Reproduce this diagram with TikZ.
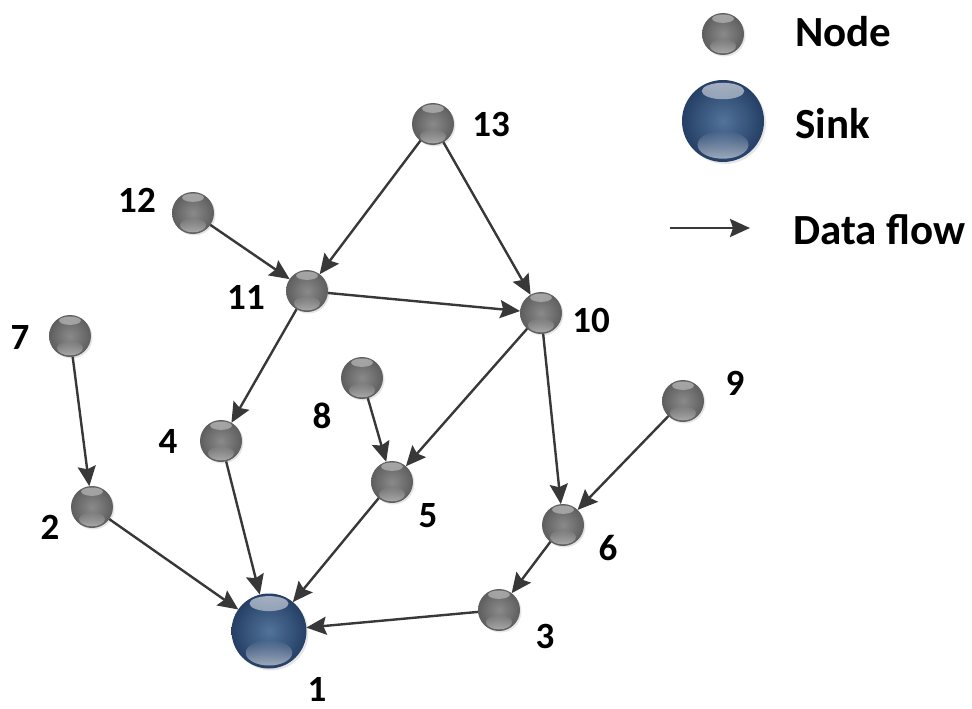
\documentclass[tikz,border=0pt]{standalone}
\usepackage{fontspec}
\setmainfont{Carlito}
\usetikzlibrary{arrows.meta,fadings,shadows}
\definecolor{edgegray}{HTML}{383838}
\definecolor{nodecenter}{HTML}{8A8A8A}
\definecolor{nodeedge}{HTML}{5E5E5E}
\definecolor{sinkcenter}{HTML}{52739A}
\definecolor{sinkedge}{HTML}{253F66}
\newcommand\ballshine[3]{%
  \fill[white,opacity=#2,path fading=south]
    ([yshift={-0.27*#1}]path picture bounding box.north)
    ellipse [x radius={0.52*#1}, y radius={0.2*#1}];
  \fill[white,opacity=#3,path fading=north]
    ([yshift={0.42*#1}]path picture bounding box.south)
    ellipse [x radius={0.62*#1}, y radius={0.34*#1}];
}
\tikzset{
  sensor/.style={circle, minimum size=42pt, inner sep=0pt, outer sep=0pt,
    inner color=nodecenter, outer color=nodeedge,
    drop shadow={shadow xshift=1.5pt, shadow yshift=-1.5pt, opacity=0.2},
    path picture={\ballshine{21pt}{0.45}{0.45}}},
  sinkball/.style={circle, minimum size=#1, inner sep=0pt, outer sep=0pt,
    inner color=sinkcenter, outer color=sinkedge,
    drop shadow={shadow xshift=2pt, shadow yshift=-2pt, opacity=0.2},
    path picture={\ballshine{0.5*#1}{0.6}{0.55}}},
  num/.style={font=\fontsize{37}{40}\selectfont\bfseries, text=black, inner sep=0pt},
  legtext/.style={font=\fontsize{43}{48}\selectfont\bfseries, text=black, inner sep=0pt, anchor=west},
  flow/.style={draw=edgegray, line width=2.4pt,
    -{Stealth[length=20pt, width=18pt, inset=3pt]}},
}
\begin{document}
\begin{tikzpicture}[x=1pt, y=-1pt]
\useasboundingbox (0,0) rectangle (972,709);
% nodes
\node[sensor] (n13) at (433,124) {};
\node[sensor] (n12) at (193,213) {};
\node[sensor] (n11) at (307,291) {};
\node[sensor] (n10) at (541,313) {};
\node[sensor] (n7)  at (70,336) {};
\node[sensor] (n8)  at (362,378) {};
\node[sensor] (n9)  at (683,401) {};
\node[sensor] (n4)  at (221,441) {};
\node[sensor] (n5)  at (392,482) {};
\node[sensor] (n2)  at (92,507) {};
\node[sensor] (n6)  at (563,525) {};
\node[sensor] (n3)  at (499,610) {};
\node[sinkball=75pt] (n1) at (269,631) {};
% labels
\node[num] (l13) at (491,124) {13};
\node[num] (l12) at (137,200) {12};
\node[num] (l11) at (246,297) {11};
\node[num] (l10) at (591,320) {10};
\node[num] (l7)  at (20,338) {7};
\node[num] (l8)  at (322,416) {8};
\node[num] (l9)  at (735,383) {9};
\node[num] (l4)  at (168,441) {4};
\node[num] (l5)  at (428,516) {5};
\node[num] (l2)  at (50,527) {2};
\node[num] (l6)  at (608,548) {6};
\node[num] (l3)  at (545,636) {3};
\node[num] (l1)  at (317,689) {1};
% edges
\draw[flow] (n13) -- (n11);
\draw[flow] (n13) -- (n10);
\draw[flow] (n12) -- (n11);
\draw[flow] (n11) -- (n10);
\draw[flow] (n11) -- (n4);
\draw[flow] (n10) -- (n5);
\draw[flow] (n10) -- (n6);
\draw[flow] (n8) -- (n5);
\draw[flow] (n9) -- (n6);
\draw[flow] (n7) -- (n2);
\draw[flow] (n4) -- (n1);
\draw[flow] (n5) -- (n1);
\draw[flow] (n2) -- (n1);
\draw[flow] (n6) -- (n3);
\draw[flow] (n3) -- (n1);
% legend
\node[sensor] (legnode) at (723,34) {};
\node[sinkball=82pt] (legsink) at (723,121) {};
\coordinate (legA) at (670,228);
\coordinate (legB) at (750,228);
\draw[flow] (legA) -- (legB);
\node[legtext] (tnode) at (795,32) {Node};
\node[legtext] (tsink) at (795,124) {Sink};
\node[legtext] (tflow) at (793,230) {Data flow};
\end{tikzpicture}
\end{document}
